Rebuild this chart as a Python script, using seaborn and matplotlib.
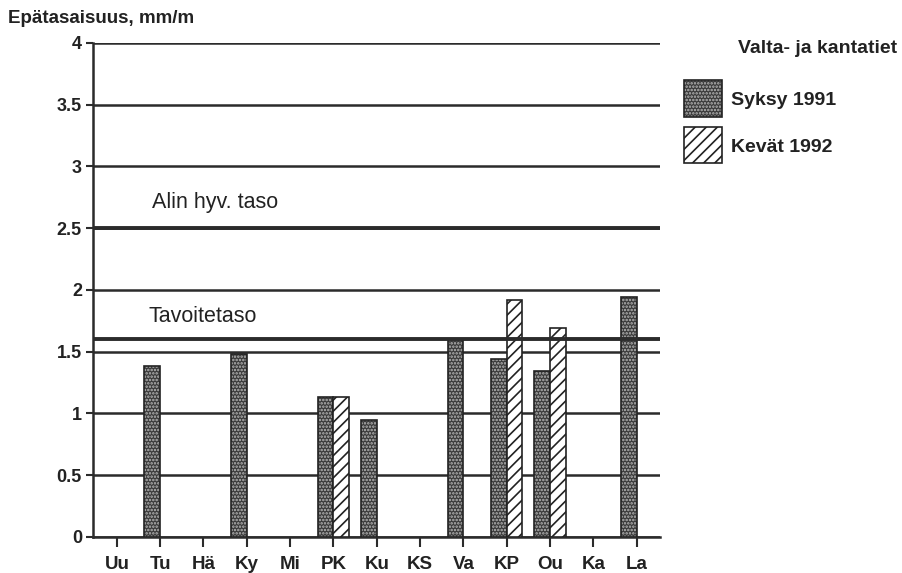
import numpy as np
import pandas as pd
import seaborn as sns
import matplotlib.pyplot as plt
from matplotlib.patches import Patch, Rectangle
from matplotlib.legend_handler import HandlerPatch

# ==========================================
# DATA
# ==========================================
CATEGORIES = ["Uu", "Tu", "Hä", "Ky", "Mi", "PK", "Ku", "KS", "Va", "KP", "Ou", "Ka", "La"]
SYKSY_1991 = [np.nan, 1.38, np.nan, 1.48, np.nan, 1.13, 0.95, np.nan, 1.60, 1.44, 1.34, np.nan, 1.94]
KEVAT_1992 = [np.nan, np.nan, np.nan, np.nan, np.nan, 1.13, np.nan, np.nan, np.nan, 1.92, 1.69, np.nan, np.nan]
SERIES = ["Syksy 1991", "Kevät 1992"]

Y_TICKS = [0, 0.5, 1, 1.5, 2, 2.5, 3, 3.5, 4]
Y_TICK_LABELS = ["0", "0.5", "1", "1.5", "2", "2.5", "3", "3.5", "4"]

ALIN_HYV_TASO = 2.5
TAVOITETASO = 1.6
# ==========================================

INK = "#222222"
DOT_FACE = "#3a3a3a"
DOT_COLOR = (0.72, 0.72, 0.72, 1.0)


def big_square(legend, orig_handle, xdescent, ydescent, width, height, fontsize):
    # legend key as a large square box, like the printed original
    cy = -ydescent + height / 2
    return Rectangle((-xdescent, cy - 13), 27.5, 26)


def make_plot():
    df = pd.DataFrame({
        "alue": CATEGORIES * 2,
        "arvo": SYKSY_1991 + KEVAT_1992,
        "sarja": [SERIES[0]] * len(CATEGORIES) + [SERIES[1]] * len(CATEGORIES),
    })

    sns.set_theme(style="white")
    plt.rcParams["font.family"] = ["Liberation Sans", "DejaVu Sans"]
    plt.rcParams["hatch.linewidth"] = 1.2

    fig = plt.figure(figsize=(9.03, 5.73), dpi=100)
    ax = fig.add_axes([0.103, 0.063, 0.628, 0.862])

    sns.barplot(
        data=df, x="alue", y="arvo", hue="sarja",
        order=CATEGORIES, hue_order=SERIES,
        width=0.725, errorbar=None, legend=False, ax=ax,
        zorder=3,
    )

    # pattern fills
    for bar in ax.containers[0]:
        bar.set_facecolor(DOT_FACE)
        bar.set_edgecolor(INK)
        bar.set_hatch(".....")
        bar._hatch_color = DOT_COLOR
        bar.set_linewidth(1.2)
    for bar in ax.containers[1]:
        bar.set_facecolor("white")
        bar.set_edgecolor(INK)
        bar.set_hatch("///")
        bar.set_linewidth(1.2)

    # grid and the two reference levels
    for y in Y_TICKS:
        ax.axhline(y, color="#2b2b2b", lw=1.8, zorder=1)
    ax.axhline(ALIN_HYV_TASO, color="#2b2b2b", lw=2.8, zorder=4)
    ax.axhline(TAVOITETASO, color="#2b2b2b", lw=2.8, zorder=4)

    ax.text(0.81, 2.66, "Alin hyv. taso", fontsize=15.5, color=INK, va="baseline")
    ax.text(0.72, 1.74, "Tavoitetaso", fontsize=15.5, color=INK, va="baseline")

    ax.set_xlim(-0.55, 12.54)
    ax.set_ylim(0, 4)
    ax.set_yticks(Y_TICKS)
    ax.set_yticklabels(Y_TICK_LABELS, fontsize=13, fontweight="bold", color=INK)
    ax.set_xticks(range(len(CATEGORIES)))
    ax.set_xticklabels(CATEGORIES, fontsize=13.5, fontweight="bold", color=INK)
    ax.set_xlabel("")
    ax.set_ylabel("")

    ax.tick_params(axis="y", direction="out", length=5, width=1.5, pad=3, color="#2b2b2b", left=True)
    ax.tick_params(axis="x", direction="out", length=7, width=1.5, pad=7, color="#2b2b2b", bottom=True)

    for side in ["top", "right"]:
        ax.spines[side].set_visible(False)
    for side in ["left", "bottom"]:
        ax.spines[side].set_color("#2b2b2b")
        ax.spines[side].set_linewidth(1.8)

    fig.text(0.009, 0.968, "Epätasaisuus, mm/m", fontsize=13.5, fontweight="bold",
             color=INK, va="center")

    # legend: title on its own, right aligned
    fig.text(0.994, 0.916, "Valta- ja kantatiet", fontsize=14, fontweight="bold",
             color=INK, ha="right", va="center")

    handles = [
        Patch(facecolor=DOT_FACE, edgecolor=INK, hatch=".....", lw=1.2),
        Patch(facecolor="white", edgecolor=INK, hatch="///", lw=1.2),
    ]
    handles[0]._hatch_color = DOT_COLOR
    leg = fig.legend(
        handles=handles, labels=SERIES,
        loc="upper left", bbox_to_anchor=(0.757, 0.840),
        frameon=False, fontsize=14,
        handler_map={Patch: HandlerPatch(patch_func=big_square)},
        handlelength=1.95, labelspacing=1.5, handletextpad=0.5,
        borderpad=0, borderaxespad=0,
    )
    for t in leg.get_texts():
        t.set_fontweight("bold")
        t.set_color(INK)

    fig.savefig("out.png", dpi=100)


if __name__ == "__main__":
    make_plot()
